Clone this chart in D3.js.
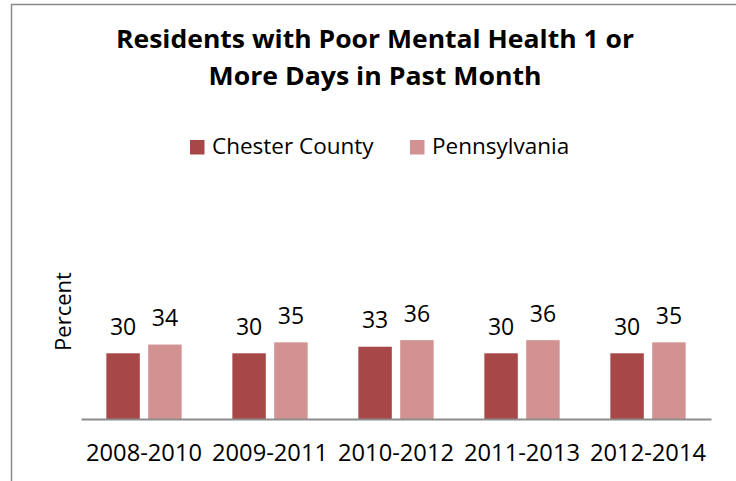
<!DOCTYPE html>
<html>
<head>
<meta charset="utf-8">
<script src="https://cdn.jsdelivr.net/npm/d3@7"></script>
<style>
  html, body { margin: 0; padding: 0; background: #fff; }
  svg { display: block; font-family: "Open Sans", "Noto Sans", sans-serif; }
</style>
</head>
<body>
<svg id="chart" width="736" height="481"></svg>
<script>
// Survey periods and the share of residents reporting 1+ poor mental health days
const categories = ["2008-2010", "2009-2011", "2010-2012", "2011-2013", "2012-2014"];
const seriesNames = ["Chester County", "Pennsylvania"];
const chesterCounty = [30, 30, 33, 30, 30];
const pennsylvania = [34, 35, 36, 36, 35];
const seriesColors = ["#A84747", "#D29292"];
const titleLines = ["Residents with Poor Mental Health 1 or", "More Days in Past Month"];
const yLabel = "Percent";

const seriesValues = [chesterCounty, pennsylvania];
const rows = categories.map((c, i) => ({
  category: c,
  values: seriesNames.map((s, j) => ({ series: s, value: seriesValues[j][i] }))
}));

const svg = d3.select("#chart");

// Chart frame (left and top edges visible)
svg.append("path")
  .attr("d", "M11.5,482 V4.5 H737")
  .attr("fill", "none")
  .attr("stroke", "#8a8a8a")
  .attr("stroke-width", 1.5);

// Title, each line spread to its set width
const titleWidths = [518, 333];
svg.append("g")
  .selectAll("text")
  .data(titleLines)
  .join("text")
  .attr("x", 375)
  .attr("y", (d, i) => 47.5 + i * 37.5)
  .attr("text-anchor", "middle")
  .attr("font-weight", "bold")
  .attr("font-size", 24.5)
  .attr("textLength", (d, i) => titleWidths[i])
  .attr("lengthAdjust", "spacingAndGlyphs")
  .attr("fill", "#000")
  .text(d => d);

// Plot area
const plot = { left: 81, right: 711, top: 200, bottom: 419 };

const x0 = d3.scaleBand()
  .domain(categories)
  .range([plot.left, plot.right])
  .padding(0);

const groupWidth = 75.3;
const x1 = d3.scaleBand()
  .domain(seriesNames)
  .range([(x0.bandwidth() - groupWidth) / 2, (x0.bandwidth() + groupWidth) / 2])
  .paddingInner(0.2)
  .paddingOuter(0);

const y = d3.scaleLinear()
  .domain([0, 100])
  .range([plot.bottom, plot.top]);

const color = d3.scaleOrdinal().domain(seriesNames).range(seriesColors);

const groups = svg.append("g")
  .selectAll("g")
  .data(rows)
  .join("g")
  .attr("transform", d => `translate(${x0(d.category)},0)`);

groups.selectAll("rect")
  .data(d => d.values)
  .join("rect")
  .attr("x", d => x1(d.series))
  .attr("y", d => y(d.value))
  .attr("width", x1.bandwidth())
  .attr("height", d => y(0) - y(d.value))
  .attr("fill", d => color(d.series));

// Value labels above bars
groups.selectAll("text")
  .data(d => d.values)
  .join("text")
  .attr("x", d => x1(d.series) + x1.bandwidth() / 2)
  .attr("y", d => y(d.value) - 18.5)
  .attr("text-anchor", "middle")
  .attr("font-size", 23)
  .attr("fill", "#000")
  .text(d => d.value);

// Category axis
const xAxis = svg.append("g")
  .attr("transform", `translate(0,${plot.bottom})`)
  .call(d3.axisBottom(x0).tickSize(0).tickPadding(0));
xAxis.select(".domain")
  .attr("stroke", "#8c8c8c")
  .attr("stroke-width", 2);
xAxis.selectAll(".tick text")
  .attr("y", 42)
  .attr("dy", 0)
  .attr("font-family", "Open Sans, Noto Sans, sans-serif")
  .attr("font-size", 23.7)
  .attr("fill", "#000");

// Y axis title
svg.append("text")
  .attr("transform", `translate(71,${(plot.top + plot.bottom) / 2 + 2}) rotate(-90)`)
  .attr("text-anchor", "middle")
  .attr("font-size", 22)
  .attr("fill", "#000")
  .text(yLabel);

// Legend
const legendItems = [
  { name: seriesNames[0], x: 190, textX: 212 },
  { name: seriesNames[1], x: 410, textX: 432 }
];
const legend = svg.append("g")
  .selectAll("g")
  .data(legendItems)
  .join("g");
legend.append("rect")
  .attr("x", d => d.x)
  .attr("y", 140)
  .attr("width", 14.5)
  .attr("height", 14.5)
  .attr("fill", d => color(d.name));
legend.append("text")
  .attr("x", d => d.textX)
  .attr("y", 154)
  .attr("font-size", 22.5)
  .attr("fill", "#000")
  .text(d => d.name);
</script>
</body>
</html>
